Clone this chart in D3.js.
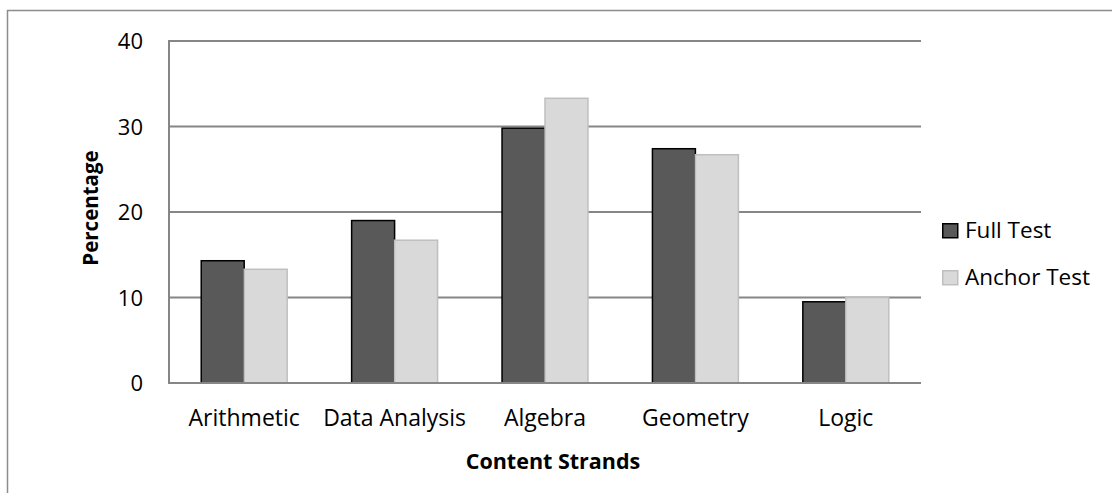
<!DOCTYPE html>
<html>
<head>
<meta charset="utf-8">
<script src="https://cdn.jsdelivr.net/npm/d3@7"></script>
<style>
  html, body { margin: 0; padding: 0; background: #fff; }
  svg { display: block; }
  text { font-family: "Open Sans", "Noto Sans", sans-serif; fill: #000; }
</style>
</head>
<body>
<svg id="chart" width="1112" height="493"></svg>
<script>
// Share of items per content strand, full test vs anchor test
const categories = ["Arithmetic", "Data Analysis", "Algebra", "Geometry", "Logic"];
const seriesNames = ["Full Test", "Anchor Test"];
const fullTest = [14.3, 19.0, 29.8, 27.4, 9.5];
const anchorTest = [13.3, 16.7, 33.3, 26.7, 10.0];
const yTicks = [0, 10, 20, 30, 40];

const W = 1112, H = 493;
const plot = { left: 169, right: 921, top: 41, bottom: 383 };

const svg = d3.select("#chart");

// outer chart border (top and left edges visible)
svg.append("path")
  .attr("d", `M7.5,${H} L7.5,10.5 L${W},10.5`)
  .attr("fill", "none")
  .attr("stroke", "#8c8c8c")
  .attr("stroke-width", 1.5);

const x0 = d3.scaleBand().domain(categories).range([plot.left, plot.right]).paddingInner(0).paddingOuter(0);
const x1 = d3.scaleBand().domain(seriesNames).range([0, x0.bandwidth()]).paddingOuter(0.75).paddingInner(0);
const y = d3.scaleLinear().domain([0, 40]).range([plot.bottom, plot.top]);

const series = [
  { name: "Full Test", values: fullTest, fill: "#595959", stroke: "#000000" },
  { name: "Anchor Test", values: anchorTest, fill: "#d9d9d9", stroke: "#bfbfbf" }
];

// horizontal gridlines
svg.append("g")
  .selectAll("line")
  .data(yTicks.filter(t => t > 0))
  .join("line")
  .attr("x1", plot.left).attr("x2", plot.right)
  .attr("y1", d => y(d)).attr("y2", d => y(d))
  .attr("stroke", "#868686")
  .attr("stroke-width", 2);

// y axis labels
const yAxis = d3.axisLeft(y).tickValues(yTicks).tickSize(0).tickPadding(26);
const gy = svg.append("g").attr("transform", `translate(${plot.left},0)`).call(yAxis);
gy.select(".domain").remove();
gy.selectAll("text")
  .attr("font-size", 22)
  .attr("font-family", "'Open Sans', sans-serif")
  .attr("dy", "0.36em");

// bars
const groups = svg.append("g")
  .selectAll("g")
  .data(series)
  .join("g");

groups.selectAll("rect")
  .data(s => s.values.map((v, i) => ({ v, cat: categories[i], s })))
  .join("rect")
  .attr("x", d => x0(d.cat) + x1(d.s.name))
  .attr("width", x1.bandwidth())
  .attr("y", d => y(d.v))
  .attr("height", d => plot.bottom - y(d.v))
  .attr("fill", d => d.s.fill)
  .attr("stroke", d => d.s.stroke)
  .attr("stroke-width", 1.5);

// axis lines (left, bottom, top)
svg.append("line")
  .attr("x1", plot.left).attr("x2", plot.left)
  .attr("y1", plot.top - 1).attr("y2", plot.bottom + 1)
  .attr("stroke", "#868686").attr("stroke-width", 2);
svg.append("line")
  .attr("x1", plot.left).attr("x2", plot.right)
  .attr("y1", plot.bottom).attr("y2", plot.bottom)
  .attr("stroke", "#868686").attr("stroke-width", 2);
svg.append("line")
  .attr("x1", plot.left).attr("x2", plot.right)
  .attr("y1", plot.top).attr("y2", plot.top)
  .attr("stroke", "#868686").attr("stroke-width", 2);

// category labels
const xAxis = d3.axisBottom(x0).tickSize(0).tickPadding(0);
const gx = svg.append("g").attr("transform", `translate(0,${plot.bottom})`).call(xAxis);
gx.select(".domain").remove();
gx.selectAll("text")
  .attr("font-size", 23)
  .attr("font-family", "'Open Sans', sans-serif")
  .attr("y", 43)
  .attr("dy", 0);

// axis titles
svg.append("text")
  .attr("x", 553).attr("y", 469)
  .attr("text-anchor", "middle")
  .attr("font-size", 21.5)
  .attr("font-weight", "bold")
  .text("Content Strands");

svg.append("text")
  .attr("transform", `translate(98,208) rotate(-90)`)
  .attr("text-anchor", "middle")
  .attr("font-size", 20.5)
  .attr("font-weight", "bold")
  .text("Percentage");

// legend
const legend = svg.append("g")
  .selectAll("g")
  .data(series)
  .join("g")
  .attr("transform", (d, i) => `translate(942,${223 + i * 47})`);
legend.append("rect")
  .attr("x", 0.75).attr("y", 0.75)
  .attr("width", 15).attr("height", 14)
  .attr("fill", d => d.fill)
  .attr("stroke", d => d.stroke)
  .attr("stroke-width", 1.5);
legend.append("text")
  .attr("x", 23).attr("y", 15)
  .attr("font-size", 22.5)
  .text(d => d.name);
</script>
</body>
</html>
